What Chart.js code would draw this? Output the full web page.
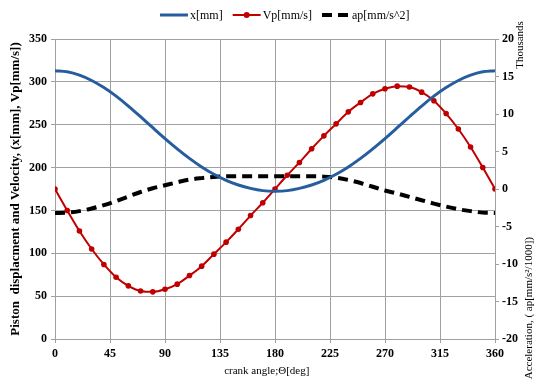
<!DOCTYPE html>
<html>
<head>
<meta charset="utf-8">
<script src="https://cdn.jsdelivr.net/npm/chart.js@4.4.1/dist/chart.umd.min.js"></script>
<style>
  html, body { margin: 0; padding: 0; background: #fff; }
  #wrap { width: 536px; height: 381px; position: relative; }
</style>
</head>
<body>
<div id="wrap"><canvas id="chart"></canvas></div>
<script>
"use strict";
//------------------ data ------------------
// crank angle, deg
const angles = [0, 10, 20, 30, 40, 50, 60, 70, 80, 90, 100, 110, 120, 130, 140, 150, 160, 170, 180,
  190, 200, 210, 220, 230, 240, 250, 260, 270, 280, 290, 300, 310, 320, 330, 340, 350, 360];
// piston displacement x [mm]
const xMm = [313, 311.7, 307.8, 301.6, 293.3, 283.3, 271.8, 259.3, 246.5, 233.9, 221.9, 210.7, 200.7, 192.2, 185.2, 179.7, 175.7, 173.1, 172.5,
  173.1, 175.7, 179.7, 185.2, 192.2, 200.7, 210.7, 221.9, 233.9, 246.5, 259.3, 271.8, 283.3, 293.3, 301.6, 307.8, 311.7, 313];
// piston velocity Vp [mm/s]
const vpMm = [175, 150, 126, 105, 87, 72, 62, 56, 55, 58, 64, 74, 85, 99, 113, 128, 144, 159, 175,
  191, 206, 222, 237, 251, 265, 276, 286, 292, 295, 294, 288, 278, 263, 245, 224, 200, 175];
// piston acceleration ap [mm/s^2], thousands
const apK = [-3.2, -3.15, -2.95, -2.6, -2.15, -1.6, -1.0, -0.4, 0.1, 0.5, 0.9, 1.25, 1.45, 1.6, 1.7, 1.7, 1.7, 1.7, 1.7,
  1.7, 1.7, 1.7, 1.65, 1.5, 1.2, 0.8, 0.3, -0.2, -0.6, -1.05, -1.5, -1.95, -2.35, -2.7, -2.95, -3.15, -3.2];

const seriesNames = ["x[mm]", "Vp[mm/s]", "ap[mm/s^2]"];
const seriesColors = ["#255d9e", "#c00000", "#000000"];

const serif = "'Liberation Serif', 'Times New Roman', serif";
const gridColor = "#a0a0a0";

function points(values) {
  return angles.map((a, i) => ({ x: a, y: values[i] }));
}

//------------------ legend + texts on the right side ------------------
const extras = {
  id: "extras",
  afterDraw(chart) {
    let ctx = chart.ctx;
    ctx.save();
    ctx.fillStyle = "#000";
    ctx.textBaseline = "middle";

    // legend, drawn from the dataset styles
    ctx.font = "12px " + serif;
    let lx = 160;
    let ly = 15;
    chart.data.datasets.forEach((ds) => {
      ctx.save();
      ctx.strokeStyle = ds.borderColor;
      ctx.lineWidth = ds.borderWidth;
      ctx.setLineDash(ds.borderDash || []);
      ctx.beginPath();
      ctx.moveTo(lx, ly);
      ctx.lineTo(lx + 28, ly);
      ctx.stroke();
      if (ds.pointRadius > 0) {
        ctx.beginPath();
        ctx.fillStyle = ds.pointBackgroundColor;
        ctx.arc(lx + 14, ly, 3, 0, Math.PI * 2);
        ctx.fill();
      }
      ctx.restore();
      lx += 30;
      ctx.fillText(ds.label, lx, ly + 1);
      lx += ctx.measureText(ds.label).width + 10;
    });

    ctx.save();
    ctx.translate(520, 45);
    ctx.rotate(-Math.PI / 2);
    ctx.font = "11px " + serif;
    ctx.textAlign = "center";
    ctx.fillText("Thousands", 0, 0);
    ctx.restore();

    ctx.save();
    ctx.translate(529, 237);
    ctx.rotate(-Math.PI / 2);
    ctx.font = "11px " + serif;
    ctx.textAlign = "right";
    ctx.fillText("Acceleration, ( ap[mm/s\u00B2/1000])", 0, 0);
    ctx.restore();

    ctx.restore();
  }
};

new Chart(document.getElementById("chart"), {
  type: "line",
  data: {
    datasets: [
      {
        label: seriesNames[0],
        data: points(xMm),
        yAxisID: "y",
        borderColor: seriesColors[0],
        backgroundColor: seriesColors[0],
        borderWidth: 3,
        pointRadius: 0,
        cubicInterpolationMode: "monotone"
      },
      {
        label: seriesNames[1],
        data: points(vpMm),
        yAxisID: "y",
        borderColor: seriesColors[1],
        backgroundColor: seriesColors[1],
        borderWidth: 2,
        pointRadius: 2.8,
        pointBackgroundColor: seriesColors[1],
        pointBorderWidth: 0,
        cubicInterpolationMode: "monotone"
      },
      {
        label: seriesNames[2],
        data: points(apK),
        yAxisID: "y1",
        borderColor: seriesColors[2],
        backgroundColor: seriesColors[2],
        borderWidth: 4,
        borderDash: [10, 6],
        pointRadius: 0,
        cubicInterpolationMode: "monotone"
      }
    ]
  },
  options: {
    responsive: true,
    maintainAspectRatio: false,
    animation: false,
    layout: { padding: { top: 39, left: 0, right: 0, bottom: 0 } },
    plugins: {
      tooltip: { enabled: false },
      legend: { display: false }
    },
    scales: {
      x: {
        type: "linear",
        min: 0,
        max: 360,
        ticks: { stepSize: 45, color: "#000", padding: 4, font: { family: serif, size: 12, weight: "bold" } },
        grid: { color: gridColor, tickLength: 4 },
        border: { color: gridColor },
        // trailing spaces move the centred title a little to the left, as in the picture
        title: { display: true, text: "crank angle;\u0398[deg]      ", color: "#000", padding: { top: 0, bottom: 3 },
          font: { family: serif, size: 11 } },
        afterFit(scale) { scale.height = 42; }
      },
      y: {
        position: "left",
        min: 0,
        max: 350,
        ticks: { stepSize: 50, color: "#000", padding: 4, font: { family: serif, size: 12, weight: "bold" } },
        grid: { color: gridColor, tickLength: 4 },
        border: { color: gridColor },
        title: { display: true, text: "Piston  displacment and Velocity, (x[mm], Vp[mm/s])", color: "#000",
          padding: { top: 8, bottom: 0 }, font: { family: serif, size: 13, weight: "bold" } },
        afterFit(scale) { scale.width = 55; }
      },
      y1: {
        position: "right",
        min: -20,
        max: 20,
        ticks: { stepSize: 5, color: "#000", padding: 3, font: { family: serif, size: 12, weight: "bold" } },
        grid: { drawOnChartArea: false, color: gridColor, tickLength: 4 },
        border: { color: gridColor },
        afterFit(scale) { scale.width = 41; }
      }
    }
  },
  plugins: [extras]
});
</script>
</body>
</html>
